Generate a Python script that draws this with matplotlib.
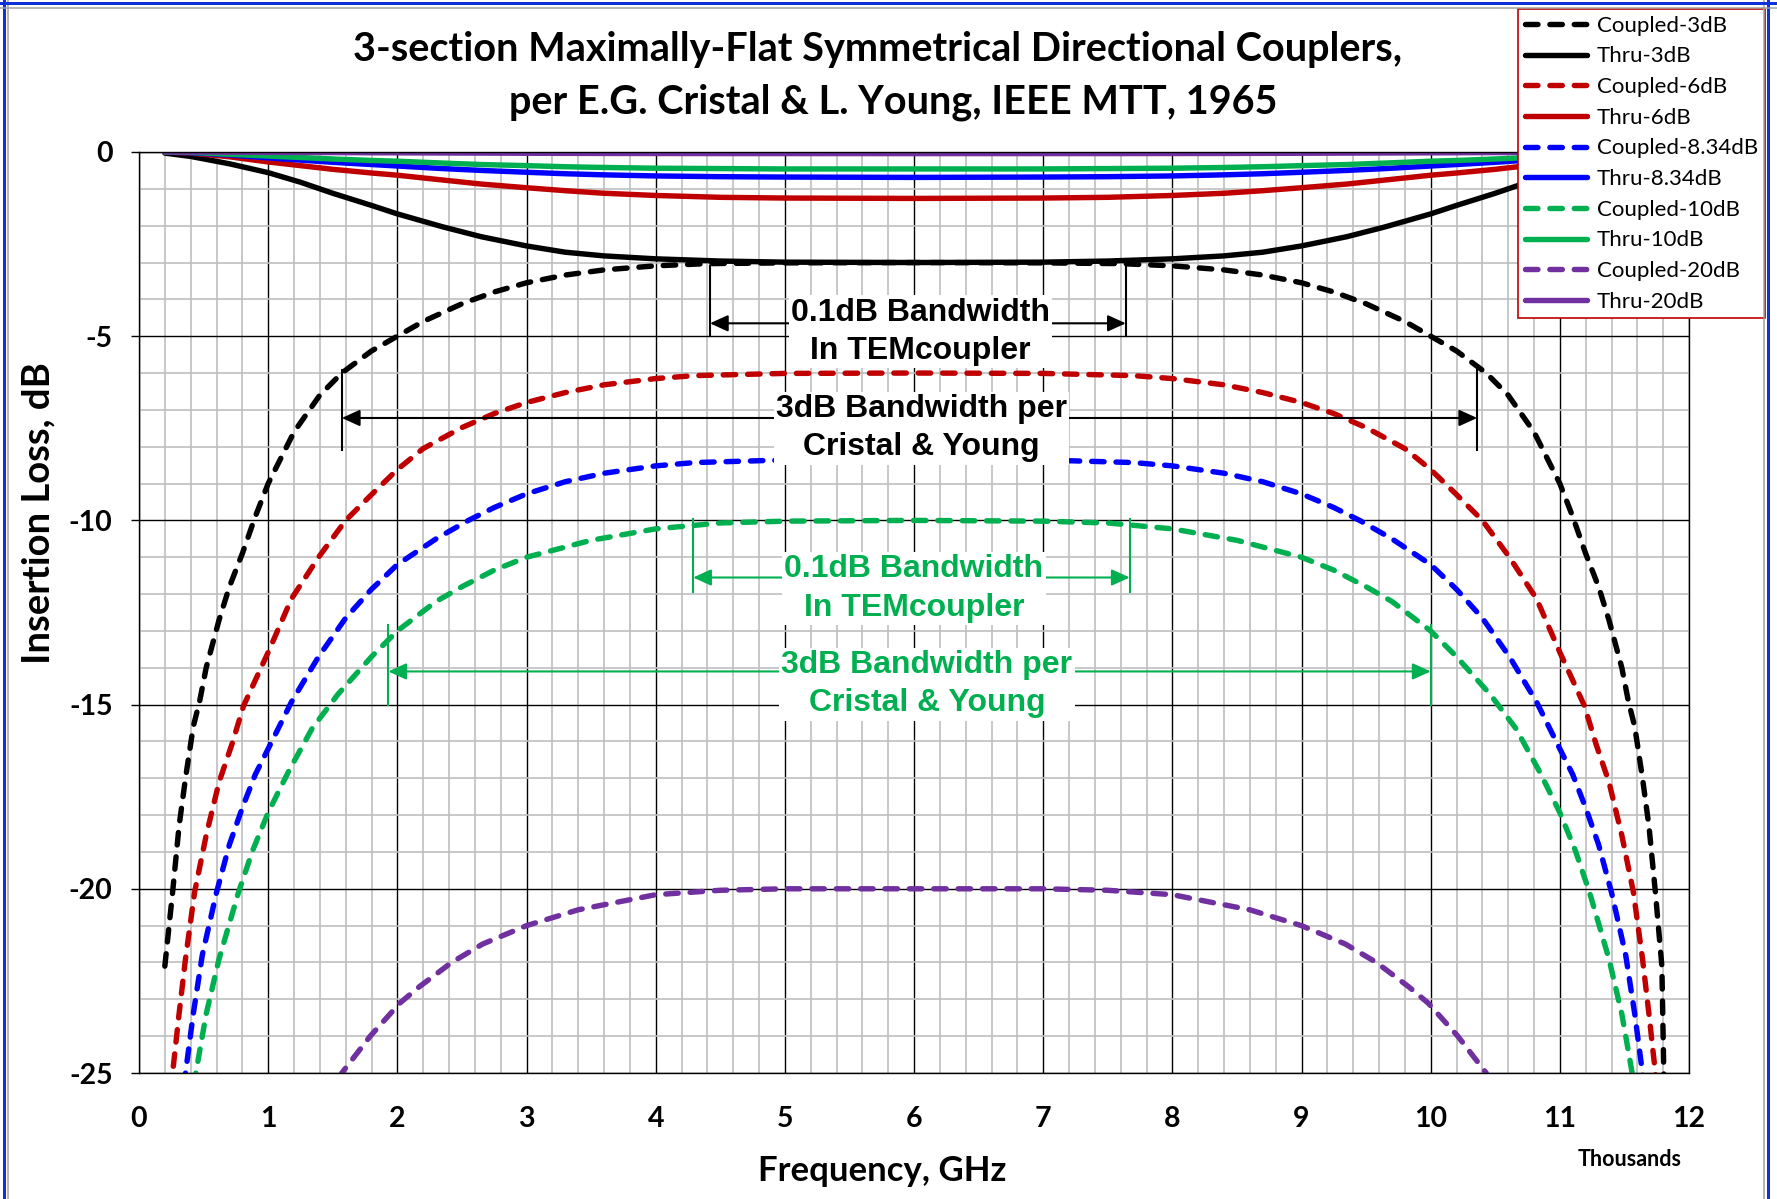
import matplotlib
matplotlib.use("Agg")
import matplotlib.pyplot as plt
from matplotlib.lines import Line2D
from matplotlib.ticker import MultipleLocator

plt.rcParams["font.family"] = ["Lato", "DejaVu Sans"]
plt.rcParams["axes.unicode_minus"] = False

# ---- data: frequency in GHz, response in dB ----
f_c3 = [0.20, 0.26, 0.31, 0.36, 0.42, 0.47, 0.52, 0.62, 0.70, 0.80,
        0.90, 1.00, 1.20, 1.40, 1.57, 1.80, 2.00, 2.20, 2.50, 2.75,
        3.00, 3.30, 3.60, 4.00, 4.40, 5.00, 6.00, 7.00, 7.60, 8.00,
        8.40, 8.70, 9.00, 9.25, 9.50, 9.80, 10.00, 10.20, 10.43, 10.60,
        10.80, 11.00, 11.10, 11.20, 11.30, 11.38, 11.48, 11.53, 11.58, 11.64,
        11.69, 11.74, 11.79, 11.81]
coupled_3 = [-22.1, -20.1, -18.3, -17.0, -15.6, -14.9, -14.0, -12.7, -11.8, -10.9,
             -9.9, -9.0, -7.6, -6.6, -6.0, -5.4, -5.0, -4.6, -4.12, -3.8,
             -3.55, -3.34, -3.2, -3.09, -3.03, -3.01, -3.0, -3.01, -3.03, -3.09,
             -3.2, -3.34, -3.55, -3.8, -4.12, -4.6, -5.0, -5.4, -6.0, -6.6,
             -7.6, -9.0, -9.9, -10.9, -11.8, -12.7, -14.0, -14.9, -15.6, -17.0,
             -18.3, -20.1, -22.1, -26.0]

f_c6 = [0.24, 0.26, 0.31, 0.36, 0.43, 0.52, 0.62, 0.72, 0.81, 1.00,
        1.18, 1.39, 1.60, 1.80, 2.00, 2.20, 2.50, 2.75, 3.00, 3.30,
        3.60, 4.00, 4.30, 5.00, 6.00, 7.00, 7.70, 8.00, 8.40, 8.70,
        9.00, 9.25, 9.50, 9.80, 10.00, 10.20, 10.40, 10.61, 10.82, 11.00,
        11.19, 11.28, 11.38, 11.48, 11.57, 11.64, 11.69, 11.74, 11.76]
coupled_6 = [-26.8, -25.0, -23.4, -21.9, -20.1, -18.55, -17.1, -16.07, -15.03, -13.58,
             -12.13, -11.0, -10.0, -9.3, -8.62, -8.05, -7.48, -7.1, -6.8, -6.53,
             -6.32, -6.15, -6.07, -6.01, -6.0, -6.01, -6.07, -6.15, -6.32, -6.53,
             -6.8, -7.1, -7.48, -8.05, -8.62, -9.3, -10.0, -11.0, -12.13, -13.58,
             -15.03, -16.07, -17.1, -18.55, -20.1, -21.9, -23.4, -25.0, -26.8]

f_c8 = [0.34, 0.36, 0.42, 0.49, 0.60, 0.70, 0.80, 0.90, 1.00, 1.18,
        1.39, 1.60, 1.80, 2.00, 2.30, 2.55, 2.75, 3.00, 3.30, 3.60,
        4.00, 4.30, 5.00, 6.00, 7.00, 7.70, 8.00, 8.40, 8.70, 9.00,
        9.25, 9.45, 9.70, 10.00, 10.20, 10.40, 10.61, 10.82, 11.00, 11.10,
        11.20, 11.30, 11.40, 11.51, 11.58, 11.64, 11.66]
coupled_834 = [-26.0, -25.0, -23.4, -21.8, -20.1, -18.8, -17.8, -16.9, -16.2, -14.93,
               -13.7, -12.65, -11.87, -11.2, -10.5, -10.0, -9.65, -9.28, -8.95, -8.72,
               -8.52, -8.43, -8.36, -8.34, -8.36, -8.43, -8.52, -8.72, -8.95, -9.28,
               -9.65, -10.0, -10.5, -11.2, -11.87, -12.65, -13.7, -14.93, -16.2, -16.9,
               -17.8, -18.8, -20.1, -21.8, -23.4, -25.0, -26.0]

f_c10 = [0.42, 0.44, 0.52, 0.62, 0.77, 0.88, 1.00, 1.16, 1.34, 1.54,
         1.80, 2.00, 2.30, 2.50, 2.75, 3.00, 3.50, 4.00, 4.50, 5.00,
         6.00, 7.00, 7.50, 8.00, 8.50, 9.00, 9.25, 9.50, 9.70, 10.00,
         10.20, 10.46, 10.66, 10.84, 11.00, 11.12, 11.23, 11.38, 11.48, 11.56,
         11.58]
coupled_10 = [-26.0, -25.0, -23.4, -21.9, -20.1, -18.96, -17.93, -16.8, -15.65, -14.72,
              -13.7, -13.0, -12.2, -11.8, -11.35, -11.0, -10.54, -10.23, -10.07, -10.02,
              -10.0, -10.02, -10.07, -10.23, -10.54, -11.0, -11.35, -11.8, -12.2, -13.0,
              -13.7, -14.72, -15.65, -16.8, -17.93, -18.96, -20.1, -21.9, -23.4, -25.0,
              -26.0]

f_c20 = [1.50, 1.57, 1.79, 2.02, 2.17, 2.42, 2.66, 3.00, 3.40, 4.00,
         4.50, 5.00, 6.00, 7.00, 7.50, 8.00, 8.60, 9.00, 9.34, 9.58,
         9.83, 9.98, 10.21, 10.43, 10.50]
coupled_20 = [-25.8, -25.0, -24.0, -23.1, -22.66, -22.0, -21.5, -21.0, -20.57, -20.16,
              -20.04, -20.0, -20.0, -20.0, -20.04, -20.16, -20.57, -21.0, -21.5, -22.0,
              -22.66, -23.1, -24.0, -25.0, -25.8]

f_thru = [0.20, 0.40, 0.70, 1.00, 1.25, 1.50, 1.80, 2.00, 2.35, 2.65,
          3.00, 3.30, 3.60, 4.00, 4.50, 5.00, 6.00, 7.00, 7.50, 8.00,
          8.40, 8.70, 9.00, 9.35, 9.65, 10.00, 10.20, 10.50, 10.75, 11.00,
          11.30, 11.60, 11.80]
thru_3 = [-0.03, -0.12, -0.32, -0.56, -0.82, -1.12, -1.45, -1.68, -2.03, -2.3,
          -2.55, -2.72, -2.82, -2.9, -2.96, -2.99, -3.0, -2.99, -2.96, -2.9,
          -2.82, -2.72, -2.55, -2.3, -2.03, -1.68, -1.45, -1.12, -0.82, -0.56,
          -0.32, -0.12, -0.03]
thru_6 = [0.0, -0.03, -0.13, -0.27, -0.37, -0.47, -0.57, -0.63, -0.76, -0.87,
          -0.97, -1.05, -1.12, -1.18, -1.23, -1.25, -1.26, -1.25, -1.23, -1.18,
          -1.12, -1.05, -0.97, -0.87, -0.76, -0.63, -0.57, -0.47, -0.37, -0.27,
          -0.13, -0.03, 0.0]
thru_834 = [0.0, -0.02, -0.08, -0.16, -0.22, -0.28, -0.34, -0.38, -0.45, -0.5,
            -0.55, -0.59, -0.62, -0.65, -0.67, -0.68, -0.69, -0.68, -0.67, -0.65,
            -0.62, -0.59, -0.55, -0.5, -0.45, -0.38, -0.34, -0.28, -0.22, -0.16,
            -0.08, -0.02, 0.0]
thru_10 = [0.0, -0.01, -0.06, -0.11, -0.15, -0.19, -0.23, -0.25, -0.3, -0.34,
           -0.37, -0.4, -0.42, -0.44, -0.45, -0.46, -0.46, -0.46, -0.45, -0.44,
           -0.42, -0.4, -0.37, -0.34, -0.3, -0.25, -0.23, -0.19, -0.15, -0.11,
           -0.06, -0.01, 0.0]
thru_20 = [0.0, 0.0, -0.005, -0.01, -0.012, -0.015, -0.02, -0.022, -0.027, -0.03,
           -0.034, -0.037, -0.039, -0.041, -0.043, -0.043, -0.044, -0.043, -0.043, -0.041,
           -0.039, -0.037, -0.034, -0.03, -0.027, -0.022, -0.02, -0.015, -0.012, -0.01,
           -0.005, 0.0, 0.0]

x_ticks = list(range(0, 13))
y_ticks = [0, -5, -10, -15, -20, -25]

BLACK, RED, BLUE, GREEN, PURPLE = "#000000", "#C00000", "#0000FF", "#00B050", "#7030A0"

# series in drawing order (later ones sit on top)
series = [
    ("Coupled-3dB", f_c3, coupled_3, BLACK, True),
    ("Thru-3dB", f_thru, thru_3, BLACK, False),
    ("Coupled-6dB", f_c6, coupled_6, RED, True),
    ("Thru-6dB", f_thru, thru_6, RED, False),
    ("Coupled-8.34dB", f_c8, coupled_834, BLUE, True),
    ("Thru-8.34dB", f_thru, thru_834, BLUE, False),
    ("Coupled-10dB", f_c10, coupled_10, GREEN, True),
    ("Thru-10dB", f_thru, thru_10, GREEN, False),
    ("Coupled-20dB", f_c20, coupled_20, PURPLE, True),
    ("Thru-20dB", f_thru, thru_20, PURPLE, False),
]

W, H = 1777, 1199
fig = plt.figure(figsize=(W / 100, H / 100), dpi=100)
fig.patch.set_facecolor("white")

px = lambda x: x / W
py = lambda y: 1 - y / H

ax = fig.add_axes([px(139), py(1073), px(1689) - px(139), py(152) - py(1073)])
ax.set_xlim(0, 12)
ax.set_ylim(-25, 0)

ax.xaxis.set_minor_locator(MultipleLocator(0.2))
ax.yaxis.set_minor_locator(MultipleLocator(1))
ax.grid(which="minor", color="#BFBFBF", lw=1.2)
ax.grid(which="major", color="black", lw=1.0)
ax.set_axisbelow(True)
for s in ax.spines.values():
    s.set_color("black")
    s.set_linewidth(1.0)

ax.set_xticks(x_ticks)
ax.set_xticklabels([str(v) for v in x_ticks])
ax.set_yticks(y_ticks)
ax.set_yticklabels([str(v) for v in y_ticks])
ax.tick_params(axis="x", which="major", length=0, pad=24, labelsize=20.5)
ax.tick_params(axis="y", which="major", length=6, width=1.0, direction="out", pad=13, labelsize=20.5)
ax.tick_params(which="minor", length=0)
for lab in ax.get_xticklabels() + ax.get_yticklabels():
    lab.set_fontweight("bold")

handles = []
for name, fx, fy, col, dashed in series:
    ls = (0, (2.3, 2.2)) if dashed else "-"
    ln, = ax.plot(fx, fy, color=col, lw=3.9, ls=ls, label=name,
                  dash_capstyle="round", solid_capstyle="round", solid_joinstyle="round")
    handles.append(ln)

# bandwidth markers
ann_font = dict(family=["Liberation Sans", "DejaVu Sans"], weight="bold", size=23)


def bandwidth(x1, x2, y, y_top, y_bot, col):
    for xv in (x1, x2):
        ax.plot([xv, xv], [y_top, y_bot], color=col, lw=1.5, zorder=5)
    ax.annotate("", xy=(x2, y), xytext=(x1, y),
                arrowprops=dict(arrowstyle="<|-|>,head_length=0.55,head_width=0.25",
                                color=col, lw=1.5, shrinkA=0, shrinkB=0,
                                mutation_scale=20),
                zorder=5)


def label(x, y, txt, col):
    ax.text(x, y, txt, color=col, ha="center", va="center", linespacing=1.36,
            bbox=dict(facecolor="white", edgecolor="none", pad=1.5), zorder=6, **ann_font)


bandwidth(4.42, 7.64, -4.65, -3.1, -5.0, BLACK)
label(6.05, -4.88, "0.1dB Bandwidth\nIn TEMcoupler", BLACK)
bandwidth(1.57, 10.36, -7.22, -5.92, -8.08, BLACK)
label(6.06, -7.5, "3dB Bandwidth per\nCristal & Young", BLACK)
bandwidth(4.29, 7.67, -11.55, -9.95, -11.95, GREEN)
label(6.0, -11.85, "0.1dB Bandwidth\nIn TEMcoupler", GREEN)
bandwidth(1.93, 10.0, -14.1, -12.85, -15.0, GREEN)
label(6.1, -14.45, "3dB Bandwidth per\nCristal & Young", GREEN)

leg = ax.legend(handles=handles, loc="upper right",
                bbox_to_anchor=(px(1765), py(9)), bbox_transform=fig.transFigure,
                frameon=True, fancybox=False, framealpha=1, edgecolor=RED,
                borderpad=0.3, labelspacing=0.48, handlelength=2.8,
                handletextpad=0.45, borderaxespad=0,
                prop=dict(family=["Lato", "DejaVu Sans"], size=16))
leg.get_frame().set_linewidth(1.2)
leg.set_zorder(10)

# titles and axis captions
title_font = dict(weight="bold", size=28.5, ha="center", va="center")
fig.text(px(878), py(49), "3-section Maximally-Flat Symmetrical Directional Couplers,", **title_font)
fig.text(px(893), py(102), "per E.G. Cristal & L. Young, IEEE MTT, 1965", **title_font)
fig.text(px(882), py(1171), "Frequency, GHz", weight="bold", size=25, ha="center", va="center")
fig.text(px(38), py(513), "Insertion Loss, dB", weight="bold", size=27.5, rotation=90,
         ha="center", va="center")
fig.text(px(1630), py(1159), "Thousands", weight="bold", size=15.5, ha="center", va="center")

# chart frame
for (x0, y0, x1, y1, c, w) in [
    (4, 0, 4, H, "#1030D8", 3.0), (8, 0, 8, H, "#A0A0A0", 1.5),
    (W - 9, 0, W - 9, H, "#1030D8", 3.0), (W - 13, 0, W - 13, H, "#A0A0A0", 1.5),
    (0, 3, W, 3, "#1030D8", 3.0), (0, 8, W, 8, "#A0A0A0", 1.5),
]:
    fig.add_artist(Line2D([px(x0), px(x1)], [py(y0), py(y1)], color=c, lw=w * 0.72))

fig.savefig("out.png", dpi=100, facecolor="white")
